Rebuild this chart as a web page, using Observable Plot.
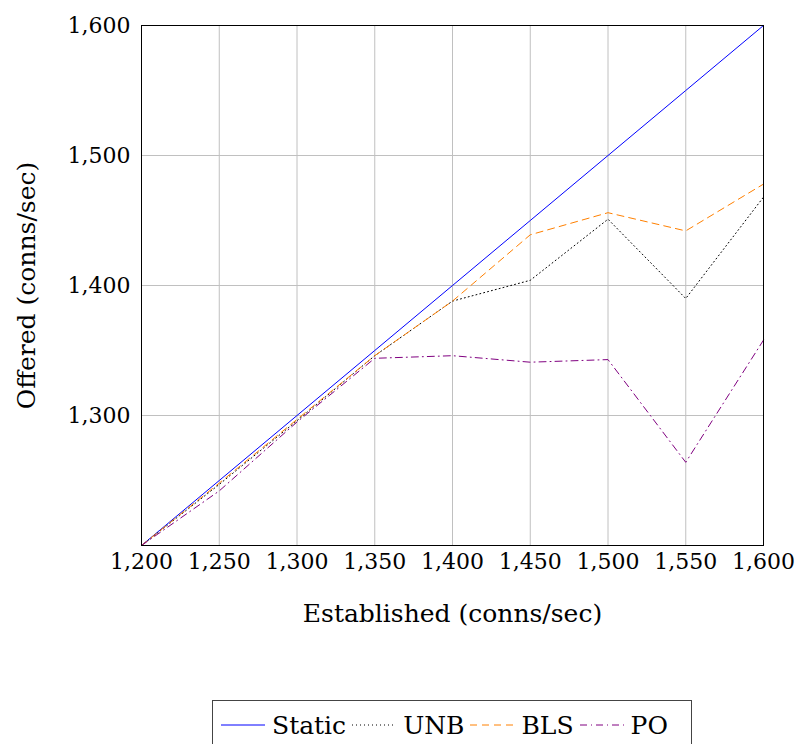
<!DOCTYPE html>
<html>
<head>
<meta charset="utf-8">
<script src="https://cdn.jsdelivr.net/npm/d3@7"></script>
<script src="https://cdn.jsdelivr.net/npm/@observablehq/plot@0.6"></script>
<style>
  html, body { margin: 0; padding: 0; background: #fff; }
  body { width: 800px; height: 744px; position: relative; overflow: hidden; font-family: "DejaVu Serif", serif; }
  #chart svg text { font-family: "DejaVu Serif", serif; }
  #legend { position: absolute; left: 212px; top: 700px; width: 480px; height: 50px; border: 1px solid #444; box-sizing: border-box; display: flex; align-items: center; padding-left: 8px; font-size: 25px; color: #000; font-family: "DejaVu Serif", serif; }
  #legend .item { display: flex; align-items: center; margin-right: 6px; }
  #legend svg { margin-right: 7px; }
</style>
</head>
<body>
<div id="chart"></div>
<div id="legend"></div>
<script>
const established = [1200, 1250, 1300, 1350, 1400, 1450, 1500, 1550, 1600];
const staticOffered = [1200, 1250, 1300, 1350, 1400, 1450, 1500, 1550, 1600];
const unbOffered = [1200, 1247, 1296, 1346, 1388, 1404, 1451, 1390, 1468];
const blsOffered = [1200, 1248, 1297, 1346, 1388, 1439, 1456, 1442, 1478];
const poOffered  = [1200, 1242, 1295, 1344, 1346, 1341, 1343, 1264, 1358];
const xTicks = [1200, 1250, 1300, 1350, 1400, 1450, 1500, 1550, 1600];
const yTicks = [1300, 1400, 1500, 1600];
const seriesNames = ["Static", "UNB", "BLS", "PO"];
const seriesColors = ["#0000ff", "#000000", "#ff8000", "#800080"];
const seriesDash = [null, "1,3", "7,5", "7,4,1,4"];
const seriesValues = [staticOffered, unbOffered, blsOffered, poOffered];

const fmt = d3.format(",");

const lineMarks = seriesValues.map((vals, i) =>
  Plot.line(established.map((x, j) => ({x, y: vals[j]})), {
    x: "x", y: "y",
    stroke: seriesColors[i],
    strokeWidth: 1,
    strokeDasharray: seriesDash[i] || undefined
  })
);

const chart = Plot.plot({
  width: 800,
  height: 680,
  marginLeft: 141,
  marginRight: 37,
  marginTop: 25,
  marginBottom: 135,
  style: { fontFamily: "'DejaVu Serif', serif", fontSize: "22px", color: "#000", background: "#fff" },
  x: { domain: [1200, 1600] },
  y: { domain: [1200, 1600] },
  marks: [
    Plot.gridX(xTicks, { stroke: "#c0c0c0", strokeOpacity: 1 }),
    Plot.gridY([1300, 1400, 1500], { stroke: "#c0c0c0", strokeOpacity: 1 }),
    Plot.axisX(xTicks, { tickSize: 0, tickPadding: 8, tickFormat: fmt, fontSize: 22, label: null }),
    Plot.axisX({ ticks: [], tickSize: 0, fontSize: 25, label: "Established (conns/sec)", labelAnchor: "center", labelArrow: "none", labelOffset: 76 }),
    Plot.axisY(yTicks, { tickSize: 0, tickPadding: 11, tickFormat: fmt, fontSize: 22, label: null }),
    Plot.axisY({ ticks: [], tickSize: 0, fontSize: 25, label: "Offered (conns/sec)", labelAnchor: "center", labelArrow: "none", labelOffset: 124 }),
    ...lineMarks,
    Plot.frame({ stroke: "#000", strokeWidth: 1 })
  ]
});
document.getElementById("chart").appendChild(chart);

const legend = document.getElementById("legend");
seriesNames.forEach((name, i) => {
  const item = document.createElement("div");
  item.className = "item";
  const dash = seriesDash[i] ? ` stroke-dasharray="${seriesDash[i]}"` : "";
  item.innerHTML = `<svg width="44" height="10"><line x1="0" y1="5" x2="44" y2="5" stroke="${seriesColors[i]}" stroke-width="1"${dash}/></svg><span>${name}</span>`;
  legend.appendChild(item);
});
</script>
</body>
</html>
